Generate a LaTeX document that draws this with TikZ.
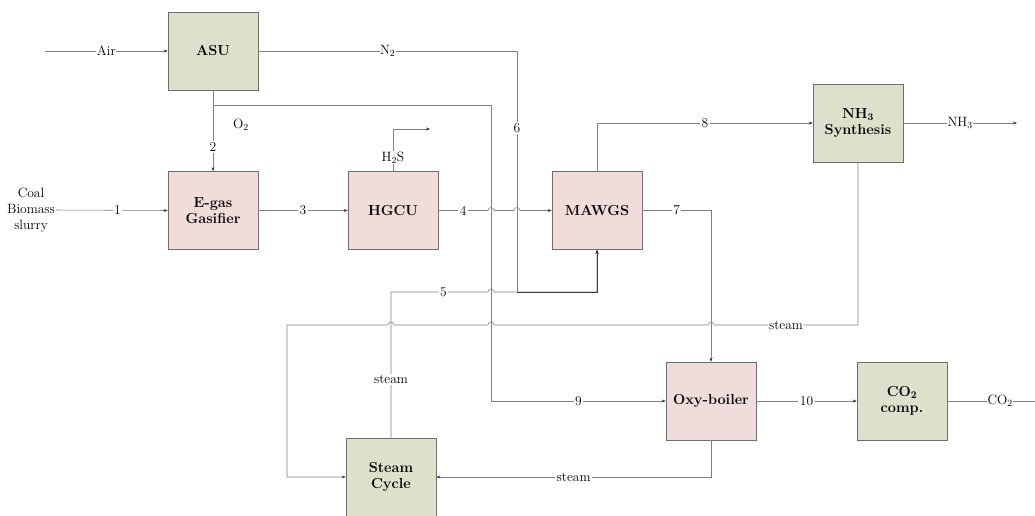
\documentclass[tikz,border=0pt]{standalone}
\usetikzlibrary{arrows.meta}
\definecolor{boxgreen}{HTML}{DCE1CB}
\definecolor{boxpink}{HTML}{F0DCDB}
\definecolor{boxline}{HTML}{6E6E6E}
\definecolor{flow}{HTML}{808080}
\tikzset{
  unit/.style={draw=boxline, line width=0.6pt, minimum width=90pt, minimum height=78pt,
    align=center, font=\fontsize{14.5}{16}\selectfont\bfseries, inner sep=2pt},
  gbox/.style={unit, fill=boxgreen},
  pbox/.style={unit, fill=boxpink},
  flowline/.style={draw=flow, line width=0.55pt},
  arr/.style={flowline, -{Stealth[length=4pt,width=3pt,color=black!80]}},
  lab/.style={fill=white, inner sep=1.5pt, font=\fontsize{13.5}{15}\selectfont},
  plain/.style={inner sep=1pt, font=\fontsize{13.5}{16}\selectfont},
}
\begin{document}
\begin{tikzpicture}[x=1pt,y=-1pt]
\useasboundingbox (0,0) rectangle (1035,515);
% units
\node[gbox] (asu) at (213,51) {ASU};
\node[pbox] (gas) at (213,210.5) {E-gas\\Gasifier};
\node[pbox] (hgcu) at (393,210.5) {HGCU};
\node[pbox] (mawgs) at (597,210.5) {MAWGS};
\node[gbox] (nh3) at (858,123) {NH\textsubscript{3}\\Synthesis};
\node[pbox] (oxy) at (711,401) {Oxy-boiler};
\node[gbox] (co2) at (902,401) {CO\textsubscript{2}\\comp.};
\node[gbox] (sc) at (391,477) {Steam\\Cycle};
% sources / sinks
\coordinate (airin) at (45,51);
\node[plain, align=center] (coal) at (31,210) {Coal\\Biomass\\slurry};
\coordinate (h2sout) at (430,129);
\coordinate (nh3out) at (1017,123);
\coordinate (co2out) at (1053,401);
% Air
\draw[arr] (airin) -- node[lab, inner sep=0.5pt]{Air} (asu.west);
% N2 (stream 6)
\draw[flowline] (asu.east) -- node[lab, inner sep=0.5pt]{N\textsubscript{2}} (517,51)
  -- node[lab, pos=0.32]{6} (517,292);
% O2 to gasifier (stream 2)
\draw[arr] (asu.south) -- node[lab, pos=0.70]{2} (gas.north);
\node[plain] (o2) at (241,125) {O\textsubscript{2}};
% O2 to oxy-boiler (stream 9)
\draw[arr] (213,105) -- (491,105) -- (491,401) -- node[lab]{9} (oxy.west);
% stream 1
\draw[arr] (coal.east) -- node[lab, pos=0.55]{1} (gas.west);
% stream 3
\draw[arr] (gas.east) -- node[lab]{3} (hgcu.west);
% stream 4 with jumps
\draw[arr] (hgcu.east) -- node[lab]{4} (488,210.5)
  .. controls (488,206.5) and (494,206.5) .. (494,210.5) -- (514,210.5)
  .. controls (514,206.5) and (520,206.5) .. (520,210.5) -- (mawgs.west);
% H2S
\draw[arr] (hgcu.north) -- node[lab, pos=0.32, inner sep=0.5pt]{H\textsubscript{2}S} (393,129) -- (h2sout);
% stream 8
\draw[arr] (mawgs.north) -- (597,123) -- node[lab]{8} (nh3.west);
% NH3 product
\draw[arr] (nh3.east) -- node[lab, inner sep=0.5pt]{NH\textsubscript{3}} (nh3out);
% stream 7
\draw[arr] (mawgs.east) -- node[lab]{7} (711,210.5) -- (oxy.north);
% stream 5 (steam to MAWGS)
\draw[arr] (sc.north) -- node[lab, pos=0.40]{steam} (391,292)
  -- node[lab, pos=0.54]{5} (488,292)
  .. controls (488,288) and (494,288) .. (494,292) -- (597,292) -- (mawgs.south);
\draw[draw=black!75, line width=0.65pt, -{Stealth[length=4pt,width=3pt,color=black!80]}]
  (517,292) -- (597,292) -- (mawgs.south);
% steam from NH3 synthesis to steam cycle
\draw[arr] (nh3.south) -- (858,325) -- node[lab]{steam} (714,325)
  .. controls (714,321) and (708,321) .. (708,325) -- (494,325)
  .. controls (494,321) and (488,321) .. (488,325) -- (394,325)
  .. controls (394,321) and (388,321) .. (388,325) -- (287,325)
  -- (287,477) -- (sc.west);
% steam from oxy-boiler
\draw[arr] (oxy.south) -- (711,477) -- node[lab]{steam} (sc.east);
% stream 10
\draw[arr] (oxy.east) -- node[lab]{10} (co2.west);
% CO2 product
\draw[arr] (co2.east) -- node[lab, inner sep=0.5pt]{CO\textsubscript{2}} (co2out);
\end{tikzpicture}
\end{document}
